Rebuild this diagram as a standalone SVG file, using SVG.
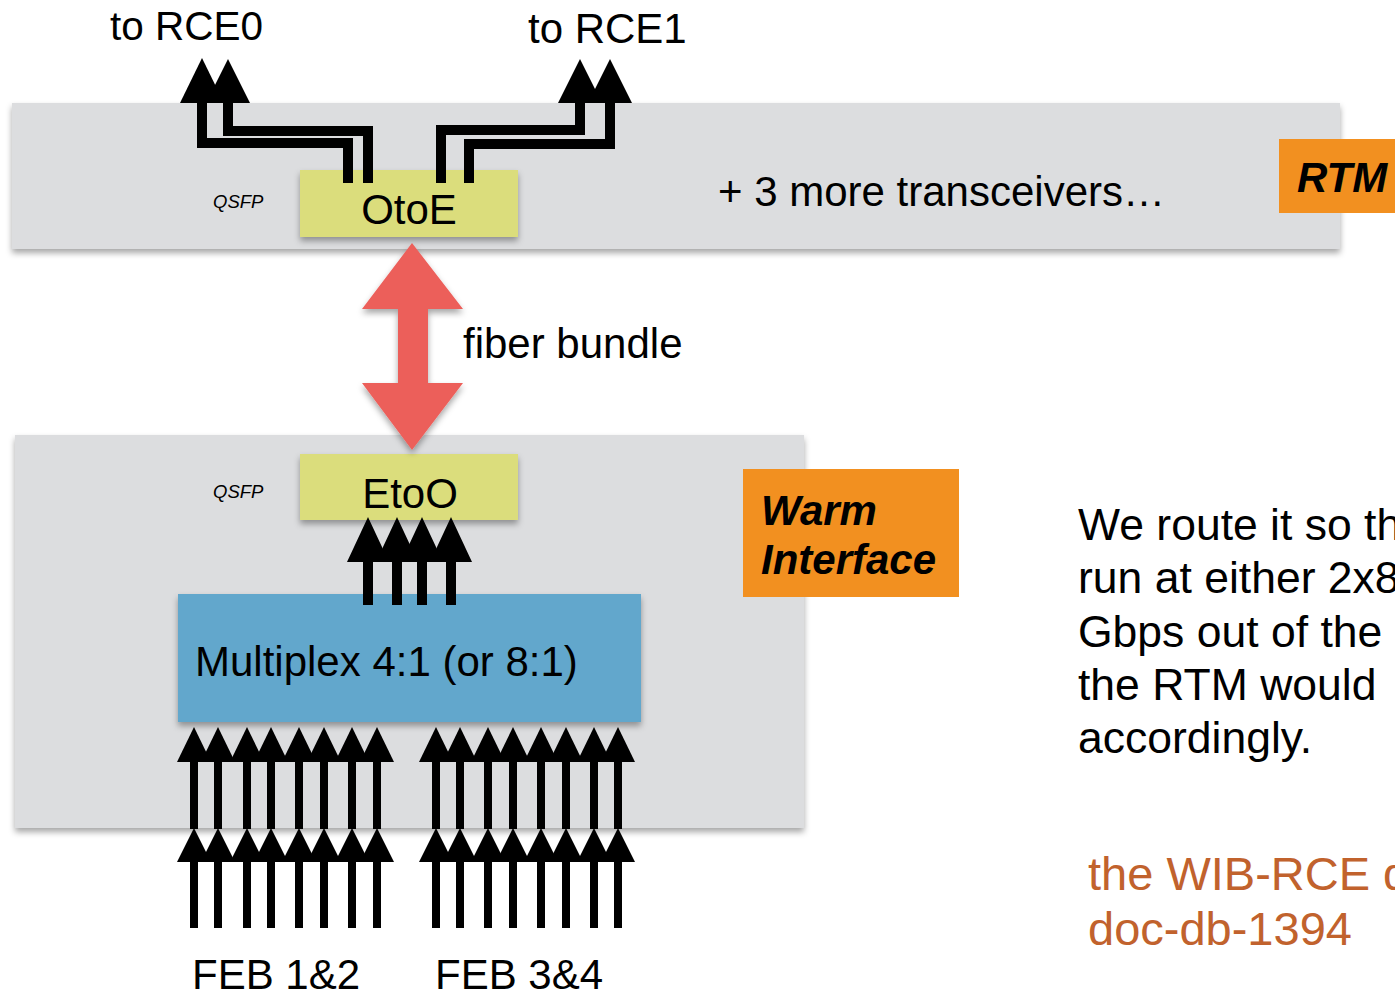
<svg xmlns="http://www.w3.org/2000/svg" width="1395" height="992" viewBox="0 0 1395 992">
<defs>
<filter id="sh" x="-10%" y="-10%" width="120%" height="130%">
<feDropShadow dx="0" dy="4" stdDeviation="3" flood-color="#000" flood-opacity="0.35"/>
</filter>
<style>
text{font-family:"Liberation Sans",Arial,Helvetica,sans-serif;fill:#000}
.big{font-size:42px}
.q{font-size:18.5px;font-style:italic}
.lab{font-size:42px;font-weight:bold;font-style:italic}
.board{fill:#dcdddf;filter:url(#sh)}
.ybox{fill:#dbdd7b;filter:url(#sh)}
.orange{fill:#f29020}
.wire{fill:none;stroke:#000;stroke-width:10;stroke-linejoin:miter;stroke-linecap:butt}
.thin{fill:none;stroke:#000;stroke-width:8}
.side{font-size:44.5px}
.ref{font-size:47px;fill:#c1622d}
</style>
</defs>
<rect width="1395" height="992" fill="#fff"/>
<g id="rtm-board"><rect class="board" x="12" y="103" width="1328" height="146"/></g>
<g id="warm-board"><rect class="board" x="15" y="435" width="789" height="393"/></g>
<g id="otoe"><rect class="ybox" x="300" y="170" width="218" height="67"/><text class="big" x="409" y="224" text-anchor="middle">OtoE</text></g>
<g id="etoo"><rect class="ybox" x="300" y="454" width="218" height="66"/><text class="big" x="410" y="508" text-anchor="middle">EtoO</text></g>
<g id="multiplex"><rect x="178" y="594" width="463" height="128" fill="#62a7cc" filter="url(#sh)"/><text class="big" x="195" y="676">Multiplex 4:1 (or 8:1)</text></g>
<g id="qsfp-top"><text class="q" x="213" y="208">QSFP</text></g>
<g id="qsfp-bottom"><text class="q" x="213" y="498">QSFP</text></g>
<g id="rtm-label"><rect class="orange" x="1279" y="139" width="120" height="74"/><text class="lab" x="1297" y="192">RTM</text></g>
<g id="warm-label"><rect class="orange" x="743" y="469" width="216" height="128"/><text class="lab" x="761" y="525">Warm</text><text class="lab" x="761" y="574">Interface</text></g>
<g id="texts">
<text class="big" x="110" y="40" style="font-size:40.5px">to RCE0</text>
<text class="big" x="528" y="43">to RCE1</text>
<text class="big" x="718" y="206">+ 3 more transceivers…</text>
<text class="big" x="463" y="358">fiber bundle</text>
<text class="big" x="192" y="989">FEB 1&amp;2</text>
<text class="big" x="435" y="989">FEB 3&amp;4</text>
<text class="side" x="1078" y="540">We route it so th</text>
<text class="side" x="1078" y="593">run at either 2x8</text>
<text class="side" x="1078" y="647">Gbps out of the</text>
<text class="side" x="1078" y="700">the RTM would</text>
<text class="side" x="1078" y="753">accordingly.</text>
<text class="ref" x="1088" y="890">the WIB-RCE d</text>
<text class="ref" x="1088" y="945">doc-db-1394</text>
</g>
<g id="connectors">
<polygon points="412,243 463,309 428,309 428,383 463,383 412,450 362,383 398,383 398,309 362,309" fill="#ec5f5a" filter="url(#sh)"/>
<path class="wire" d="M348,183 V143 H202 V100"/>
<path class="wire" d="M368,183 V131 H228 V100"/>
<path class="wire" d="M441,183 V130 H580 V100"/>
<path class="wire" d="M469,183 V144 H610 V100"/>
<polygon points="180,103 224,103 202,58"/>
<polygon points="206,103 250,103 228,59"/>
<polygon points="558,103 602,103 580,59"/>
<polygon points="588,103 632,103 610,59"/>
<g id="mux-out">
<path class="wire" d="M368,605 V555 M397,605 V555 M422,605 V555 M451,605 V555"/>
<polygon points="347,562 389,562 368,517"/>
<polygon points="376,562 418,562 397,517"/>
<polygon points="401,562 443,562 422,517"/>
<polygon points="430,562 472,562 451,517"/>
</g>
<g id="feb-upper">
<path class="thin" d="M194,829 V758 M218,829 V758 M247,829 V758 M271,829 V758 M299,829 V758 M324,829 V758 M352,829 V758 M377,829 V758 M436,829 V758 M460,829 V758 M488,829 V758 M513,829 V758 M541,829 V758 M566,829 V758 M594,829 V758 M618,829 V758"/>
<polygon points="177,762 211,762 194,727"/><polygon points="201,762 235,762 218,727"/><polygon points="230,762 264,762 247,727"/><polygon points="254,762 288,762 271,727"/><polygon points="282,762 316,762 299,727"/><polygon points="307,762 341,762 324,727"/><polygon points="335,762 369,762 352,727"/><polygon points="360,762 394,762 377,727"/>
<polygon points="419,762 453,762 436,727"/><polygon points="443,762 477,762 460,727"/><polygon points="471,762 505,762 488,727"/><polygon points="496,762 530,762 513,727"/><polygon points="524,762 558,762 541,727"/><polygon points="549,762 583,762 566,727"/><polygon points="577,762 611,762 594,727"/><polygon points="601,762 635,762 618,727"/>
</g>
<g id="feb-lower">
<path class="thin" d="M194,928 V858 M218,928 V858 M247,928 V858 M271,928 V858 M299,928 V858 M324,928 V858 M352,928 V858 M377,928 V858 M436,928 V858 M460,928 V858 M488,928 V858 M513,928 V858 M541,928 V858 M566,928 V858 M594,928 V858 M618,928 V858"/>
<polygon points="177,862 211,862 194,828"/><polygon points="201,862 235,862 218,828"/><polygon points="230,862 264,862 247,828"/><polygon points="254,862 288,862 271,828"/><polygon points="282,862 316,862 299,828"/><polygon points="307,862 341,862 324,828"/><polygon points="335,862 369,862 352,828"/><polygon points="360,862 394,862 377,828"/>
<polygon points="419,862 453,862 436,828"/><polygon points="443,862 477,862 460,828"/><polygon points="471,862 505,862 488,828"/><polygon points="496,862 530,862 513,828"/><polygon points="524,862 558,862 541,828"/><polygon points="549,862 583,862 566,828"/><polygon points="577,862 611,862 594,828"/><polygon points="601,862 635,862 618,828"/>
</g>
</g>
</svg>
